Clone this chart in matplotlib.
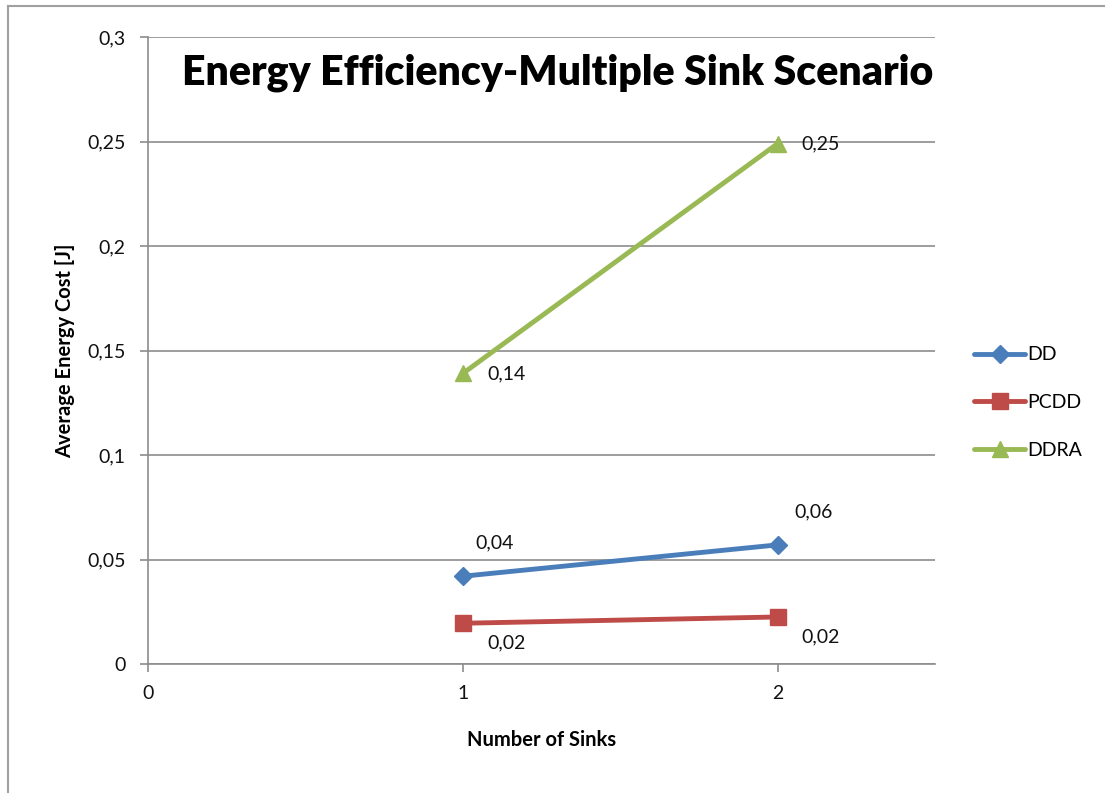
import matplotlib.pyplot as plt
from matplotlib.lines import Line2D

# values
sinks = [1, 2]
dd = [0.042, 0.057]
pcdd = [0.0195, 0.0225]
ddra = [0.139, 0.249]

series_names = ["DD", "PCDD", "DDRA"]
series_vals = [dd, pcdd, ddra]
colors = ["#4A7EBB", "#BE4B48", "#98B954"]
markers = ["D", "s", "^"]
msizes = [9, 11, 11]
# label offsets in points (dx, dy)
label_off = [[(9, 24), (12, 24)], [(18, -14), (17, -14)], [(18, 0), (17, 0)]]

yticks = [0, 0.05, 0.1, 0.15, 0.2, 0.25, 0.3]
ytick_labels = ["0", "0,05", "0,1", "0,15", "0,2", "0,25", "0,3"]
xticks = [0, 1, 2]

plt.rcParams['font.family'] = ['Lato', 'DejaVu Sans']

fig = plt.figure(figsize=(11.05, 7.93), dpi=100)
# outer chart border (only left and top are visible in the picture)
bx, by = 8 / 1105, 1 - 6 / 793
fig.add_artist(Line2D([bx, bx], [0, by], transform=fig.transFigure, color="#A0A0A0", lw=1.5))
fig.add_artist(Line2D([bx, 1], [by, by], transform=fig.transFigure, color="#A0A0A0", lw=1.5))

ax = fig.add_axes([148 / 1105, 1 - 664 / 793, (935 - 148) / 1105, (664 - 37) / 793])

for name, vals, c, m, ms, offs in zip(series_names, series_vals, colors, markers, msizes, label_off):
    ax.plot(sinks, vals, color=c, marker=m, markersize=ms, linewidth=3.5, label=name,
            solid_capstyle="round", zorder=3)
    for x, v, (dx, dy) in zip(sinks, vals, offs):
        ax.annotate(f"{v:.2f}".replace(".", ","), (x, v), xytext=(dx, dy),
                    textcoords="offset points", ha="left", va="center",
                    fontsize=14, color="#111111")

ax.set_xlim(0, 2.5)
ax.set_ylim(0, 0.3)
ax.set_yticks(yticks)
ax.set_yticklabels(ytick_labels)
ax.set_xticks(xticks)
ax.grid(axis="y", color="#8C8C8C", linewidth=1.2)
ax.set_axisbelow(True)
for s in ["top", "right"]:
    ax.spines[s].set_visible(False)
for s in ["left", "bottom"]:
    ax.spines[s].set_color("#8C8C8C")
    ax.spines[s].set_linewidth(1.2)
ax.tick_params(axis="both", colors="#8C8C8C", length=6, width=1.2, labelsize=14,
               labelcolor="#111111")
ax.tick_params(axis="y", pad=10)
ax.tick_params(axis="x", pad=9)

ax.set_xlabel("Number of Sinks", fontsize=14.5, fontweight="bold", labelpad=20)
ax.set_ylabel("Average Energy Cost [J]", fontsize=14.5, fontweight="bold", labelpad=9)

ax.text(0.52, 0.9435, "Energy Efficiency-Multiple Sink Scenario", transform=ax.transAxes,
        ha="center", va="center", fontsize=29.5, fontweight="heavy", color="black")

ax.legend(loc="center left", bbox_to_anchor=(1.04, 0.417), frameon=False, fontsize=14,
          handlelength=2.6, handletextpad=0.15, labelspacing=1.58, borderaxespad=0)

fig.savefig("out.png", dpi=100, facecolor="white")
